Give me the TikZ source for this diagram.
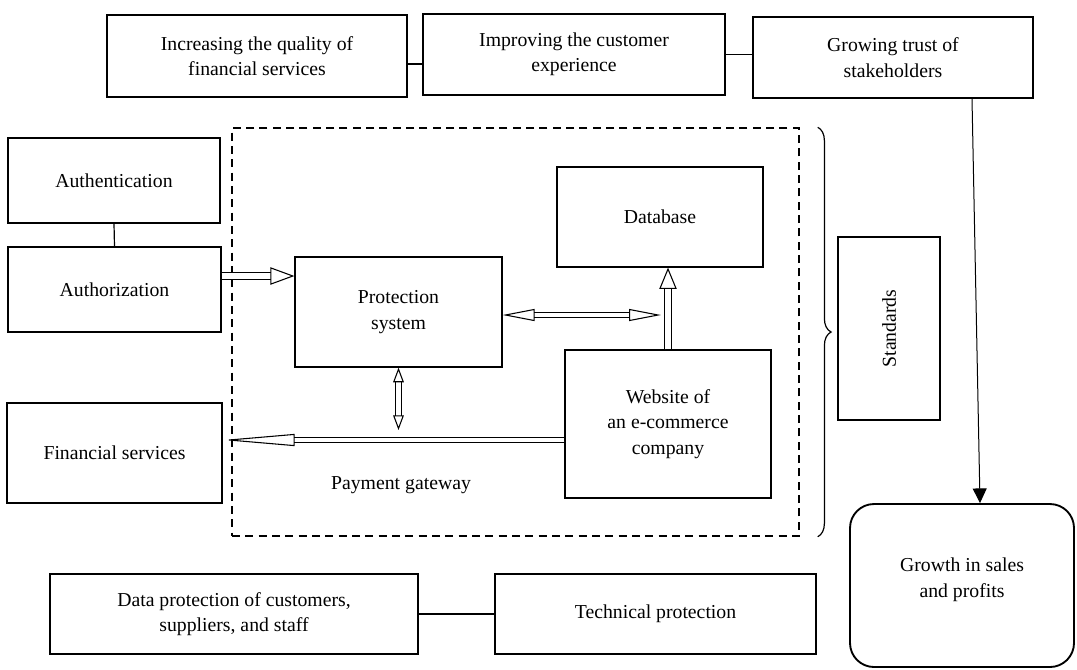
\documentclass[tikz,border=0pt]{standalone}
\usepackage{fontspec}
\setmainfont{Liberation Serif}
\usetikzlibrary{arrows.meta,calc,decorations.pathreplacing}
\begin{document}
\begin{tikzpicture}[x=0.75pt,y=-0.75pt,
  sz/.style 2 args={minimum width=#1*0.75pt, minimum height=#2*0.75pt},
  txt/.style={font=\fontsize{14.8}{19}\selectfont, align=center},
  box/.style={txt, draw, line width=1.4pt, inner sep=0pt},
  thinbox/.style={box, line width=0.9pt},
  link/.style={line width=1.3pt},
  barrow/.style={double, line width=0.8pt, double distance=#1},
]
\useasboundingbox (0,0) rectangle (1077,669);

% top row
\node[box, sz={300}{82}] (inc) at (257,56) {Increasing the quality of\\financial services};
\node[box, sz={302}{81}] (imp) at (574,54.5) {Improving the customer\\experience};
\node[box, sz={280}{81}] (grow) at (893,57.5) {Growing trust of\\stakeholders};

% left column
\node[thinbox, sz={212}{85}] (auth) at (114,180.5) {Authentication};
\node[thinbox, sz={213}{85}] (authz) at (114.5,289.5) {Authorization};
\node[thinbox, sz={215}{100}] (fin) at (114.5,453) {Financial services};

% payment gateway area
\node[draw, line width=1.1pt, dash pattern=on 6pt off 4pt, sz={567}{408}] (gw) at (515.5,332) {};
\node[thinbox, sz={207}{110}] (prot) at (398.5,312) {Protection\\system};
\node[thinbox, sz={206}{100}] (db) at (660,217) {Database};
\node[thinbox, sz={206}{148}] (web) at (668,424) {Website of\\an e-commerce\\company};
\node[txt] (pg) at (401,485) {Payment gateway};

% standards
\node[box, line width=1.1pt, rotate=90, sz={183}{102}] (std) at (889,328.5) {Standards};
\draw[line width=0.9pt, decorate, decoration={brace, amplitude=10pt}]
  ($(gw.north east)+(18,0)$) -- ($(gw.south east)+(18,0)$);

% outcome
\node[box, rounded corners=18pt, sz={224}{163}] (growth) at (962,585.5) {Growth in sales\\and profits\\[-7pt]};

% bottom row
\node[box, sz={368}{80}] (dp) at (234,614) {Data protection of customers,\\suppliers, and staff};
\node[box, sz={321}{80}] (tp) at (655.5,614) {Technical protection};

% plain links
\coordinate (c1) at ($(inc.east)+(0,8)$);
\draw[link] (c1) -- (c1 -| imp.west);
\draw[link] (imp.east) -- (imp.east -| grow.west);
\draw[line width=0.9pt] (auth.south) -- (authz.north);
\draw[link] (dp.east) -- (tp.west);
\draw[line width=0.75pt, -{Triangle[length=11pt, width=10.5pt]}]
  ($(grow.south)+(79,0)$) -- ($(growth.north)+(18,0)$);

% block arrows
\coordinate (a1) at ($(authz.east)+(0,-13.5)$);
\draw[barrow=5pt, -{Triangle[open, length=18pt, width=13pt, line width=0.8pt]}] (a1) -- (a1 -| prot.west);

\coordinate (hj) at ($(web.north |- prot.east)+(-7,3)$);
\draw[barrow=2.4pt, {Triangle[open, length=24pt, width=9pt, line width=0.8pt]}-{Triangle[open, length=24pt, width=9pt, line width=0.8pt]}] (prot.east |- hj) -- (hj);

\draw[barrow=5pt, -{Triangle[open, length=16pt, width=13pt, line width=0.8pt]}] (web.north) -- (web.north |- db.south);

\coordinate (f1) at ($(web.west)+(0,16)$);
\coordinate (vj) at ($(prot.south |- f1)+(0,-10)$);
\draw[barrow=3.5pt, {Triangle[open, length=11pt, width=8pt, line width=0.8pt]}-{Triangle[open, length=11pt, width=8pt, line width=0.8pt]}] (prot.south) -- (vj);

\draw[barrow=3.5pt, -{Triangle[open, length=54pt, width=9pt, line width=0.8pt]}] (f1) -- (f1 -| fin.east);
\end{tikzpicture}
\end{document}
